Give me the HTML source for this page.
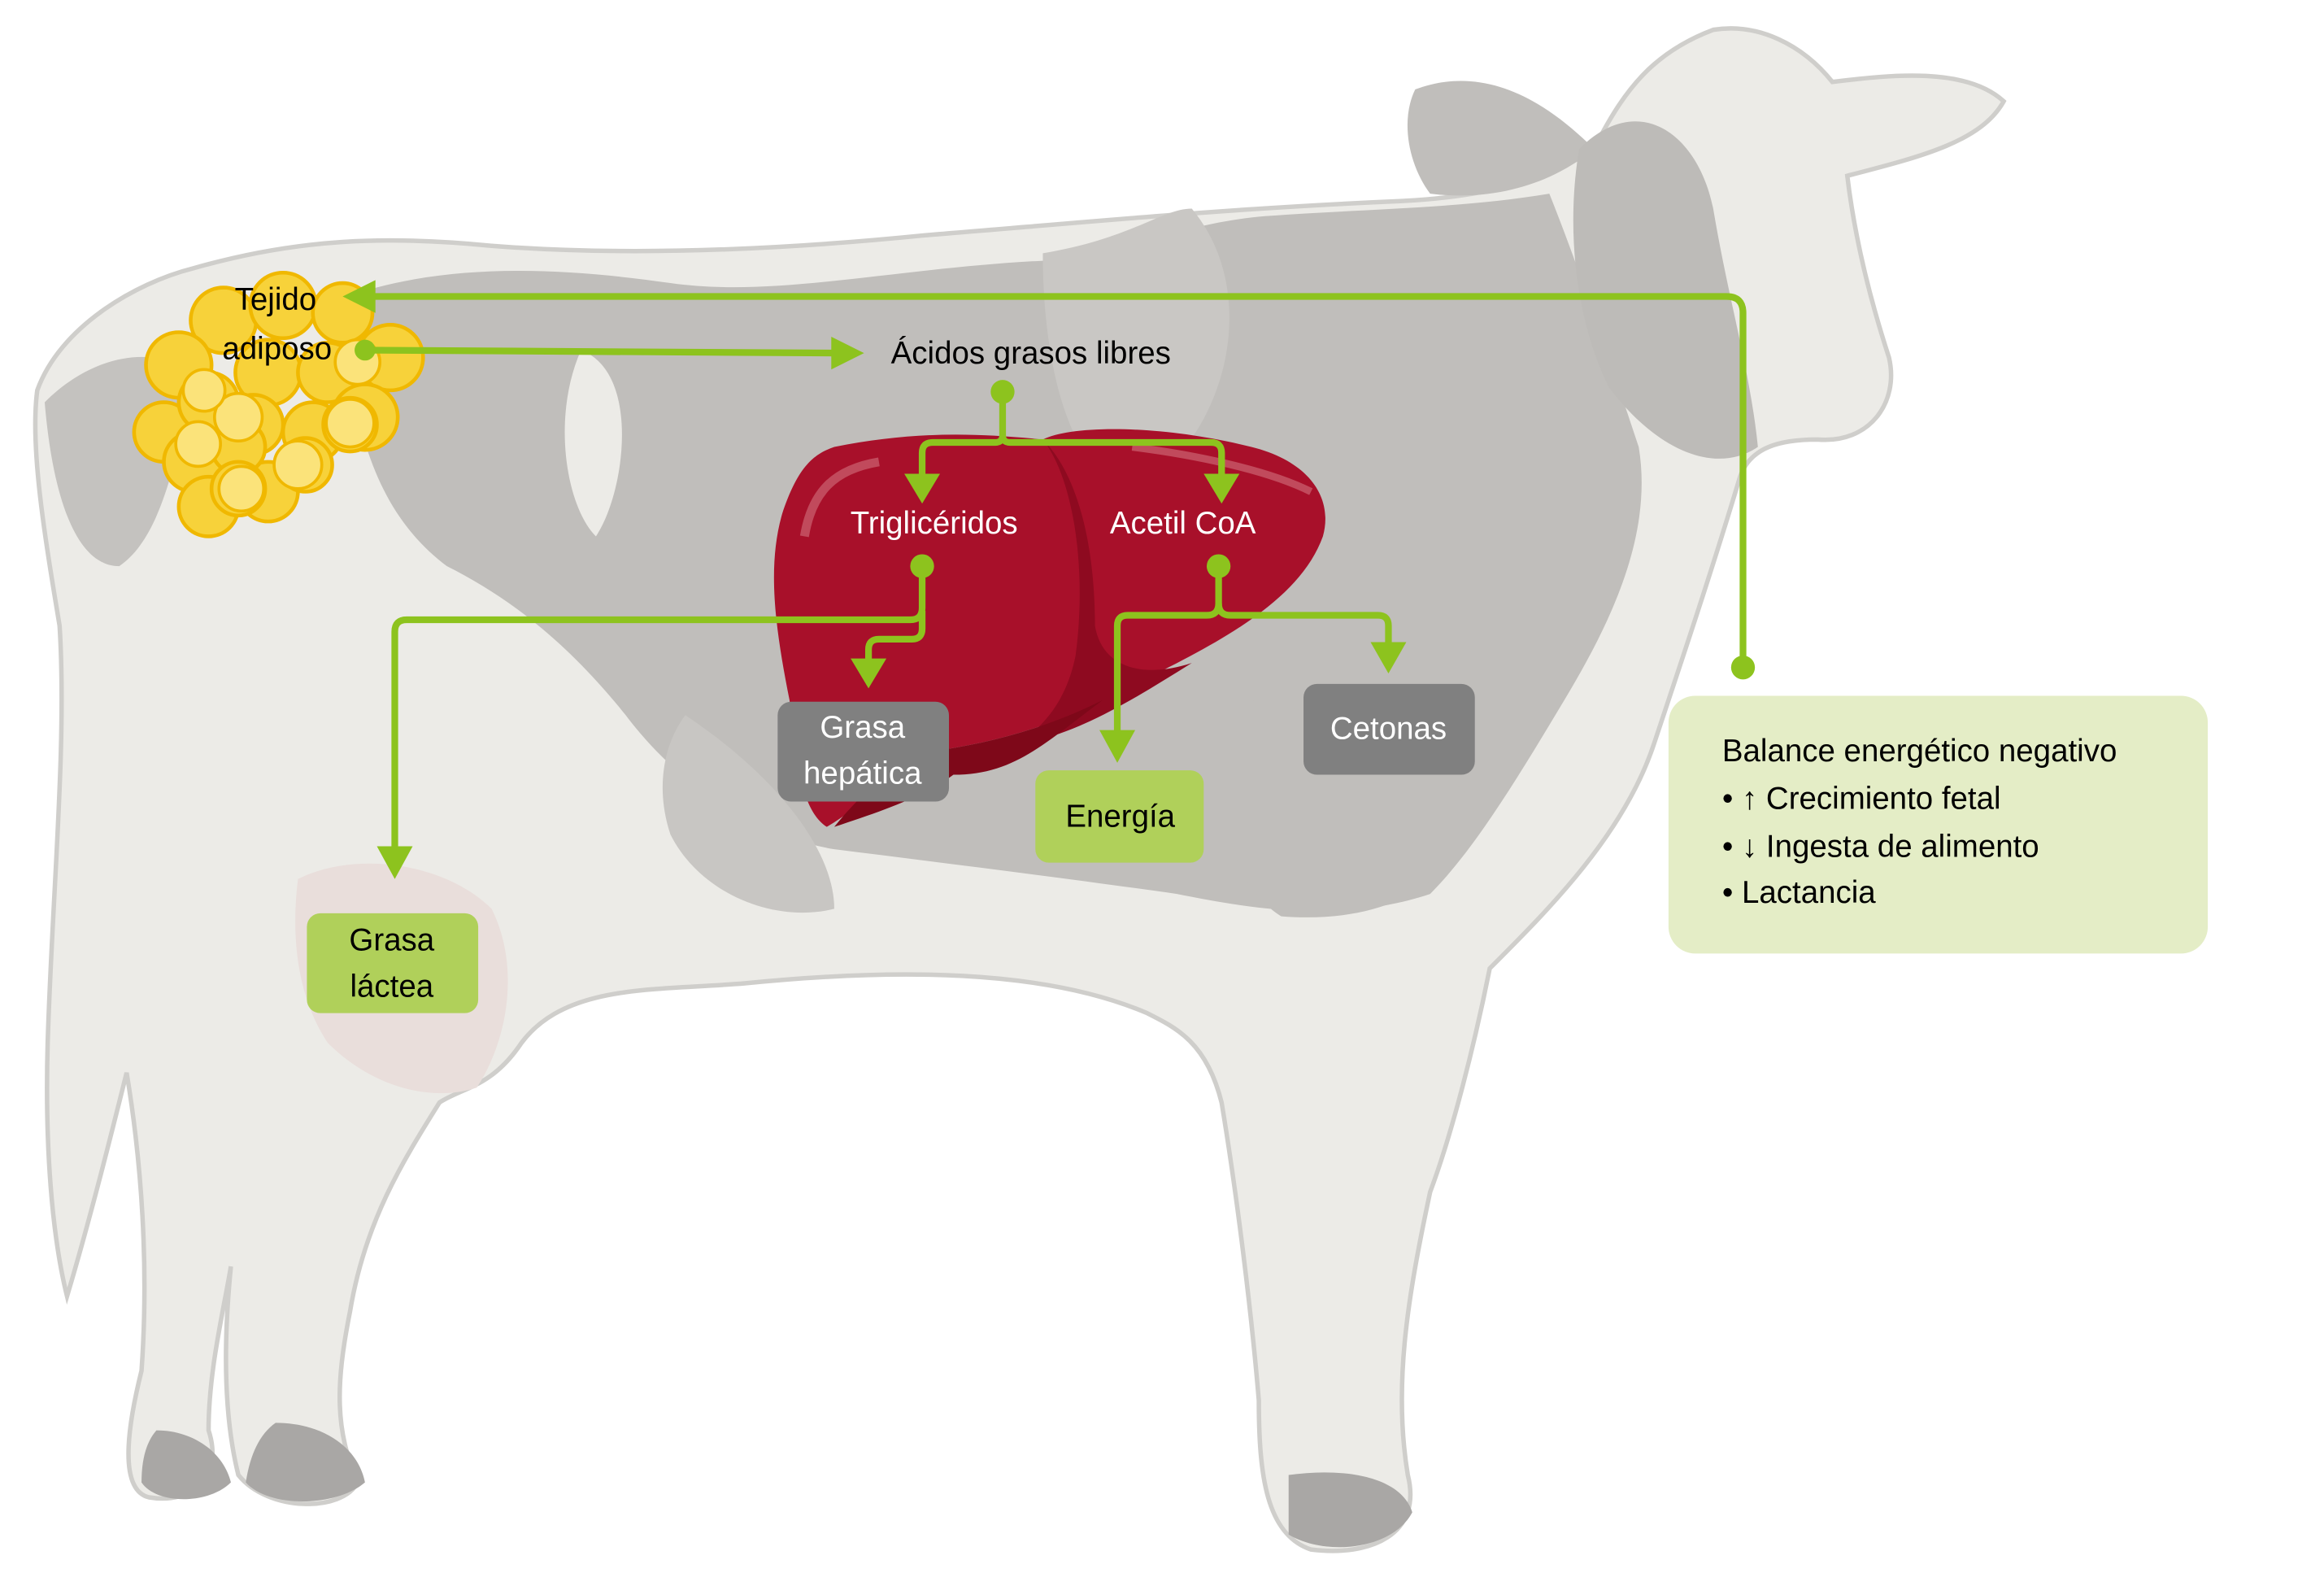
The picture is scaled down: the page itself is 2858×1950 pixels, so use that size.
<!DOCTYPE html>
<html><head><meta charset="utf-8"><style>
html,body{margin:0;padding:0;background:#fff;width:2858px;height:1950px;overflow:hidden}
svg{display:block}
text{font-family:"Liberation Sans",sans-serif}
</style></head><body>
<svg width="2858" height="1950" viewBox="0 0 1560 1064.5" preserveAspectRatio="none" xmlns="http://www.w3.org/2000/svg">
<defs>
<marker id="ah" viewBox="0 0 10 10" refX="5" refY="9" markerWidth="6" markerHeight="6" orient="auto-start-reverse" markerUnits="userSpaceOnUse"></marker>
</defs>
<!-- cow body -->
<path d="M25,262 C40,220 90,190 130,180 C200,160 260,158 330,165 C420,172 520,168 620,158 C720,150 820,140 940,135 C1000,132 1040,120 1070,100 C1090,60 1110,35 1150,20 C1180,15 1210,30 1230,55 C1270,50 1320,45 1345,68 C1330,95 1290,105 1240,118 C1245,160 1255,200 1268,240 C1275,270 1255,298 1220,295 C1195,295 1175,300 1168,320 C1150,380 1130,440 1110,500 C1090,560 1040,610 1000,650 C990,700 975,760 960,800 C945,870 935,930 945,990 C955,1030 920,1045 880,1040 C850,1030 845,990 845,940 C840,880 830,800 820,740 C810,700 790,690 770,680 C700,650 600,650 500,660 C440,665 380,660 350,700 C330,730 310,730 295,740 C270,780 245,820 235,880 C225,930 225,960 240,995 C230,1015 180,1015 160,990 C150,950 150,900 155,850 C150,880 140,920 140,960 C150,990 130,1010 100,1005 C80,1000 85,960 95,920 C100,850 95,780 85,720 C75,760 60,820 45,870 C35,830 30,770 32,700 C35,600 45,500 40,420 C30,360 20,300 25,262 Z" fill="#ecebe7" stroke="#cfcecb" stroke-width="3"/>
<!-- dark patches -->
<path d="M230,200 C300,175 380,180 450,190 C520,200 600,180 700,175 C760,170 790,150 850,145 C920,140 980,140 1040,130 C1060,180 1080,240 1100,300 C1110,360 1080,420 1050,470 C1020,520 990,570 960,600 C900,620 840,610 790,600 C720,590 640,580 560,570 C500,560 450,520 420,480 C380,430 340,400 300,380 C260,350 235,300 230,200 Z" fill="#c0bebb"/>
<path d="M700,170 C760,160 780,140 800,140 C850,200 820,300 760,330 C720,320 700,250 700,170 Z" fill="#c9c7c4"/>
<path d="M390,235 C430,250 420,330 400,360 C380,340 370,280 390,235 Z" fill="#ecebe7"/>
<path d="M950,60 C990,45 1030,60 1070,100 C1040,125 1000,135 960,130 C945,110 940,80 950,60 Z" fill="#c0bebb"/>
<path d="M1060,100 C1100,60 1140,90 1150,140 C1160,200 1175,250 1180,300 C1150,320 1110,300 1080,260 C1060,220 1050,160 1060,100 Z" fill="#bdbbb8"/>
<path d="M30,270 C60,240 100,230 130,250 C120,300 110,360 80,380 C50,380 35,330 30,270 Z" fill="#c4c2bf"/>
<path d="M840,470 C900,480 960,500 990,540 C980,600 920,620 860,615 C820,590 810,520 840,470 Z" fill="#c0bebb"/>
<path d="M460,480 C520,520 560,570 560,610 C520,620 470,600 450,560 C440,530 445,500 460,480 Z" fill="#c8c6c3"/>
<path d="M200,590 C240,570 300,580 330,610 C350,650 340,700 320,730 C290,740 250,730 220,700 C200,670 195,630 200,590 Z" fill="#e9dedb"/>
<path d="M105,960 C130,960 150,975 155,995 C140,1010 105,1010 95,995 C95,980 98,968 105,960 Z" fill="#a9a7a5"/>
<path d="M185,955 C215,955 240,970 245,995 C225,1012 180,1012 165,995 C168,975 175,962 185,955 Z" fill="#a9a7a5"/>
<path d="M865,990 C900,985 940,990 948,1015 C935,1040 890,1045 865,1030 Z" fill="#a9a7a5"/>
<!-- adipose cluster -->
<g fill="#f7d23a" stroke="#f0b800" stroke-width="2.5">
<circle cx="150" cy="215" r="22"/><circle cx="190" cy="205" r="22"/><circle cx="230" cy="210" r="20"/><circle cx="262" cy="240" r="22"/>
<circle cx="120" cy="245" r="22"/><circle cx="110" cy="290" r="20"/><circle cx="140" cy="270" r="20"/><circle cx="180" cy="250" r="22"/>
<circle cx="220" cy="250" r="20"/><circle cx="245" cy="280" r="22"/><circle cx="210" cy="290" r="20"/><circle cx="170" cy="285" r="20"/>
<circle cx="130" cy="310" r="20"/><circle cx="140" cy="340" r="20"/><circle cx="180" cy="330" r="20"/><circle cx="205" cy="312" r="18"/>
<circle cx="235" cy="285" r="18"/><circle cx="160" cy="300" r="18"/><circle cx="160" cy="328" r="18"/>
</g>
<g fill="#fbe37a" stroke="#f0b800" stroke-width="2">
<circle cx="160" cy="280" r="16"/><circle cx="200" cy="312" r="16"/><circle cx="133" cy="298" r="15"/><circle cx="235" cy="284" r="16"/><circle cx="162" cy="328" r="15"/><circle cx="240" cy="243" r="15"/><circle cx="137" cy="262" r="14"/>
</g>
<!-- liver -->
<path d="M560,300 C610,290 650,290 700,295 C720,285 780,285 840,300 C880,310 895,335 888,360 C870,410 800,440 740,470 C700,490 660,500 620,505 C600,520 580,540 555,555 C540,545 535,520 530,470 C520,420 515,380 525,345 C535,315 545,305 560,300 Z" fill="#a8102a"/>
<path d="M700,295 C720,320 730,380 722,440 C716,470 700,490 680,500 C720,495 760,470 800,445 C770,455 740,450 735,420 C735,370 725,320 700,295 Z" fill="#8e0a20"/>
<path d="M740,470 C700,500 680,520 640,520 C620,535 590,545 560,555 C580,530 600,515 620,505 C660,500 700,490 740,470 Z" fill="#7e0819"/>
<path d="M540,360 C545,330 560,315 590,310" stroke="#c14a5c" stroke-width="6" fill="none"/>
<path d="M760,300 C800,305 850,315 880,330" stroke="#c14a5c" stroke-width="5" fill="none"/>
<!-- connectors -->
<g stroke="#8dc31e" stroke-width="4.5" fill="none">
<path d="M245,235 L565,237"/>
<path d="M1170,448 L1170,210 Q1170,199 1159,199 L245,199"/>
<path d="M673,263 L673,292 Q673,297 668,297 L626,297 Q619,297 619,304 L619,322"/>
<path d="M673,292 Q673,297 678,297 L813,297 Q820,297 820,304 L820,322"/>
<path d="M619,380 L619,408 Q619,416 611,416 L273,416 Q265,416 265,424 L265,572"/>
<path d="M619,410 L619,422 Q619,429 612,429 L590,429 Q583,429 583,436 L583,448"/>
<path d="M818,380 L818,405 Q818,413 810,413 L757,413 Q750,413 750,420 L750,495"/>
<path d="M818,405 Q818,413 826,413 L925,413 Q932,413 932,420 L932,437"/>
</g>
<g fill="#8dc31e">
<circle cx="245" cy="235" r="7"/><circle cx="1170" cy="448" r="8"/><circle cx="673" cy="263" r="8"/><circle cx="619" cy="380" r="8"/><circle cx="818" cy="380" r="8"/>
<polygon points="558,226 580,237 558,248"/>
<polygon points="252,188 230,199 252,210"/>
<polygon points="607,318 631,318 619,338"/>
<polygon points="808,318 832,318 820,338"/>
<polygon points="253,568 277,568 265,590"/>
<polygon points="571,442 595,442 583,462"/>
<polygon points="738,490 762,490 750,512"/>
<polygon points="920,431 944,431 932,452"/>
</g>
<!-- boxes -->
<rect x="522" y="471" width="115" height="67" rx="9" fill="#808080"/>
<rect x="875" y="459" width="115" height="61" rx="9" fill="#808080"/>
<rect x="695" y="517" width="113" height="62" rx="9" fill="#b0d05a"/>
<rect x="206" y="613" width="115" height="67" rx="9" fill="#b0d05a"/>
<rect x="1120" y="467" width="362" height="173" rx="18" fill="#e4edc6"/>
<!-- text -->
<g font-size="21" text-anchor="middle">
<text x="185" y="208" fill="#000">Tejido</text>
<text x="186" y="241" fill="#000">adiposo</text>
<text x="692" y="244" fill="#000">Ácidos grasos libres</text>
<text x="627" y="358" fill="#fff">Triglicéridos</text>
<text x="794" y="358" fill="#fff">Acetil CoA</text>
<text x="579" y="495" fill="#fff">Grasa</text>
<text x="579" y="526" fill="#fff">hepática</text>
<text x="932" y="496" fill="#fff">Cetonas</text>
<text x="752" y="555" fill="#000">Energía</text>
<text x="263" y="638" fill="#000">Grasa</text>
<text x="263" y="669" fill="#000">láctea</text>
</g>
<g font-size="21" fill="#000">
<text x="1156" y="511">Balance energético negativo</text>
<text x="1156" y="543">• ↑ Crecimiento fetal</text>
<text x="1156" y="575">• ↓ Ingesta de alimento</text>
<text x="1156" y="606">• Lactancia</text>
</g>
</svg>
</body></html>
